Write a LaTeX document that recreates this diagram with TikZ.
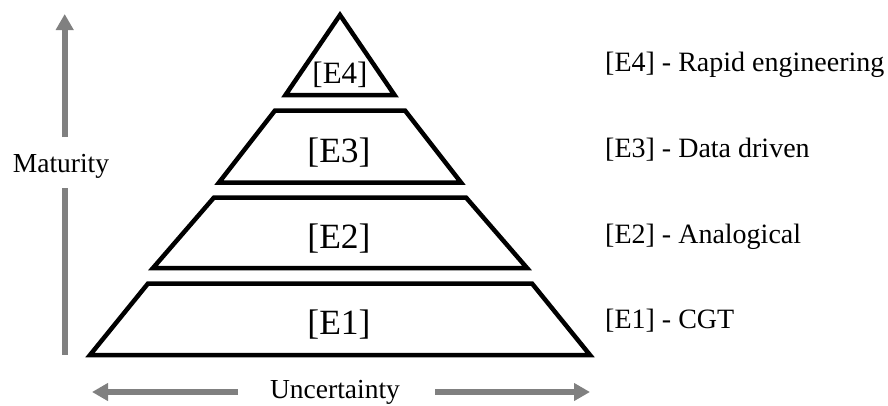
\documentclass[tikz,border=0pt]{standalone}
\usepackage{fontspec}
\setmainfont{Liberation Serif}
\usetikzlibrary{arrows.meta}
\definecolor{axisgray}{RGB}{128,128,128}
\tikzset{
  level/.style={draw=black, line width=4.5pt, line join=miter, fill=white},
  inlabel/.style={inner sep=0pt, anchor=base, font=\fontsize{35.5}{38}\selectfont},
  toplabel/.style={inner sep=0pt, anchor=base, font=\fontsize{31}{34}\selectfont},
  sidelabel/.style={inner sep=0pt, anchor=base west, font=\fontsize{28}{30}\selectfont},
  axislabel/.style={inner sep=0pt, anchor=base, font=\fontsize{27.5}{30}\selectfont},
  axisarrow/.style={draw=axisgray, line width=6pt, -{Triangle[length=16pt,width=17pt]}, fill=axisgray}
}
\begin{document}
\begin{tikzpicture}[x=1pt,y=-1pt]
\useasboundingbox (0,0) rectangle (888,405);
% pyramid levels
\draw[level] (340,15) -- (394.5,95) -- (285.5,95) -- cycle;
\draw[level] (275,110.5) -- (405,110.5) -- (461,182.5) -- (219,182.5) -- cycle;
\draw[level] (214,197.5) -- (466,197.5) -- (527,268) -- (153,268) -- cycle;
\draw[level] (148,283.5) -- (532,283.5) -- (590,355) -- (90,355) -- cycle;
% inner labels
\node[toplabel] (l4) at (340,83.5) {[E4]};
\node[inlabel] (l3) at (339,162.5) {[E3]};
\node[inlabel] (l2) at (339,248.5) {[E2]};
\node[inlabel] (l1) at (339,334.5) {[E1]};
% side labels
\node[sidelabel] (d4) at (605,71) {[E4] - Rapid engineering};
\node[sidelabel] (d3) at (605,157) {[E3] - Data driven};
\node[sidelabel] (d2) at (605,243) {[E2] - Analogical};
\node[sidelabel] (d1) at (605,328.5) {[E1] - CGT};
% axes
\node[axislabel] (mat) at (61,172) {Maturity};
\node[axislabel] (unc) at (335,398.5) {Uncertainty};
\coordinate (vtop) at (64.7,14);
\coordinate (vup) at (64.7,137);
\coordinate (vlow) at (64.7,188);
\coordinate (vbot) at (64.7,355);
\coordinate (hl) at (92,392);
\coordinate (hlt) at (238,392);
\coordinate (hr) at (590,392);
\coordinate (hrt) at (435,392);
\draw[axisarrow] (vup) -- (vtop);
\draw[draw=axisgray, line width=6pt] (vlow) -- (vbot);
\draw[axisarrow] (hlt) -- (hl);
\draw[axisarrow] (hrt) -- (hr);
\end{tikzpicture}
\end{document}
